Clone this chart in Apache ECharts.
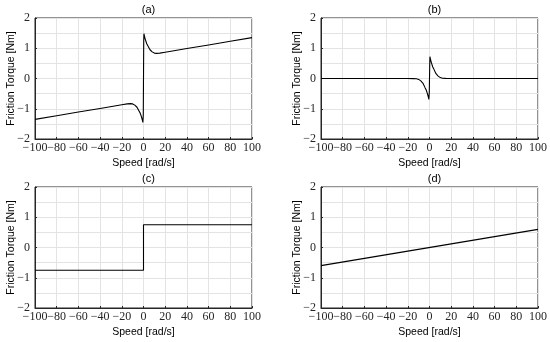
<!DOCTYPE html>
<html>
<head>
<meta charset="utf-8">
<script src="https://cdn.jsdelivr.net/npm/echarts@6/dist/echarts.min.js"></script>
<style>html,body{margin:0;padding:0;background:#fff}#c{width:550px;height:342px}</style>
</head>
<body>
<div id="c"></div>
<script>
// ---- data ----
var panelTitles = ['(a)', '(b)', '(c)', '(d)'];
var xTicks = [-100, -80, -60, -40, -20, 0, 20, 40, 60, 80, 100];
var yTicks = [-2, -1, 0, 1, 2];

// (a) total friction (Stribeck + Coulomb + viscous)
var speedA = [-100, -80, -60, -40, -20, -15, -12, -10, -8, -6, -4, -3, -2, -1.5, -1, -0.6, -0.4, -0.2, 0, 0.2, 0.4, 0.6, 1, 1.5, 2, 3, 4, 6, 8, 10, 12, 15, 20, 40, 60, 80, 100];
var torqueA = [-1.35, -1.23, -1.11, -0.99, -0.87, -0.84, -0.83, -0.84, -0.88, -0.95, -1.08, -1.15, -1.25, -1.31, -1.38, -1.45, -1.48, -1.2, 0, 1.2, 1.48, 1.45, 1.38, 1.31, 1.25, 1.15, 1.08, 0.95, 0.88, 0.84, 0.83, 0.84, 0.87, 0.99, 1.11, 1.23, 1.35];

// (b) Stribeck component
var speedB = [-100, -40, -20, -15, -12, -10, -8, -6, -4, -3, -2, -1.5, -1, -0.6, -0.4, -0.2, 0, 0.2, 0.4, 0.6, 1, 1.5, 2, 3, 4, 6, 8, 10, 12, 15, 20, 40, 100];
var torqueB = [0, 0, 0, -0.005, -0.01, -0.03, -0.08, -0.16, -0.31, -0.38, -0.49, -0.55, -0.62, -0.69, -0.72, -0.45, 0, 0.45, 0.72, 0.69, 0.62, 0.55, 0.49, 0.38, 0.31, 0.16, 0.08, 0.03, 0.01, 0.005, 0, 0, 0];

// (c) Coulomb component
var speedC = [-100, 0, 0, 100];
var torqueC = [-0.75, -0.75, 0.75, 0.75];

// (d) viscous component
var speedD = [-100, 100];
var torqueD = [-0.6, 0.6];

var xName = 'Speed [rad/s]';
var yName = 'Friction Torque [Nm]';

// ---- layout ----
var grids = [
  {left: 35, top: 18, width: 217, height: 121},
  {left: 321, top: 18, width: 217, height: 121},
  {left: 35, top: 187, width: 217, height: 121},
  {left: 321, top: 187, width: 217, height: 121}
];
var seriesX = [speedA, speedB, speedC, speedD];
var seriesY = [torqueA, torqueB, torqueC, torqueD];

function fmtNum(v) {
  var s = String(Math.abs(v));
  return v < 0 ? '\u2212' + s : s;
}

var axisColor = '#262626';
var gridColor = '#e3e3e3';
var serif = 'Liberation Serif';
var sans = 'Liberation Sans';

var option = {
  backgroundColor: '#fff',
  animation: false,
  title: [],
  grid: [],
  xAxis: [],
  yAxis: [],
  series: []
};

grids.forEach(function (g, i) {
  option.grid.push({left: g.left, top: g.top, width: g.width, height: g.height, show: true, borderColor: axisColor, borderWidth: 1, backgroundColor: '#fff'});
  option.title.push({
    text: panelTitles[i],
    left: g.left + g.width / 2,
    top: g.top - 19,
    textAlign: 'center',
    textStyle: {fontFamily: sans, fontSize: 11, fontWeight: 'normal', color: '#000'}
  });
  option.xAxis.push({
    type: 'value', gridIndex: i, min: xTicks[0], max: xTicks[xTicks.length - 1], interval: 20,
    name: xName, nameLocation: 'middle', nameGap: 19, nameMoveOverlap: false,
    nameTextStyle: {fontFamily: sans, fontSize: 10.5, color: '#000'},
    axisLine: {show: true, onZero: false, lineStyle: {color: axisColor, width: 1}},
    axisTick: {show: true, inside: true, length: 2, lineStyle: {color: axisColor}},
    axisLabel: {fontFamily: serif, fontSize: 12, color: '#262626', margin: 3, formatter: fmtNum,
      showMinLabel: true, showMaxLabel: true, hideOverlap: false},
    splitLine: {show: true, lineStyle: {color: gridColor, width: 1}}
  });
  option.yAxis.push({
    type: 'value', gridIndex: i, min: yTicks[0], max: yTicks[yTicks.length - 1], interval: 1,
    name: yName, nameLocation: 'middle', nameGap: 18, nameMoveOverlap: false,
    nameTextStyle: {fontFamily: sans, fontSize: 10.5, color: '#000'},
    axisLine: {show: true, onZero: false, lineStyle: {color: axisColor, width: 1}},
    axisTick: {show: true, inside: true, length: 2, lineStyle: {color: axisColor}},
    axisLabel: {fontFamily: serif, fontSize: 12, color: '#262626', margin: 5, formatter: fmtNum,
      showMinLabel: true, showMaxLabel: true},
    splitLine: {show: true, lineStyle: {color: gridColor, width: 1}},
    minorTick: {show: false, splitNumber: 2},
    minorSplitLine: {show: true, lineStyle: {color: gridColor, width: 1}}
  });
  var pts = seriesX[i].map(function (x, k) { return [x, seriesY[i][k]]; });
  option.series.push({
    type: 'line', xAxisIndex: i, yAxisIndex: i, data: pts,
    showSymbol: false, symbol: 'none', smooth: false,
    lineStyle: {color: '#000', width: 1.1},
    z: 5
  });
});

var chart = echarts.init(document.getElementById('c'), null, {renderer: 'canvas'});
chart.setOption(option);
</script>
</body>
</html>
